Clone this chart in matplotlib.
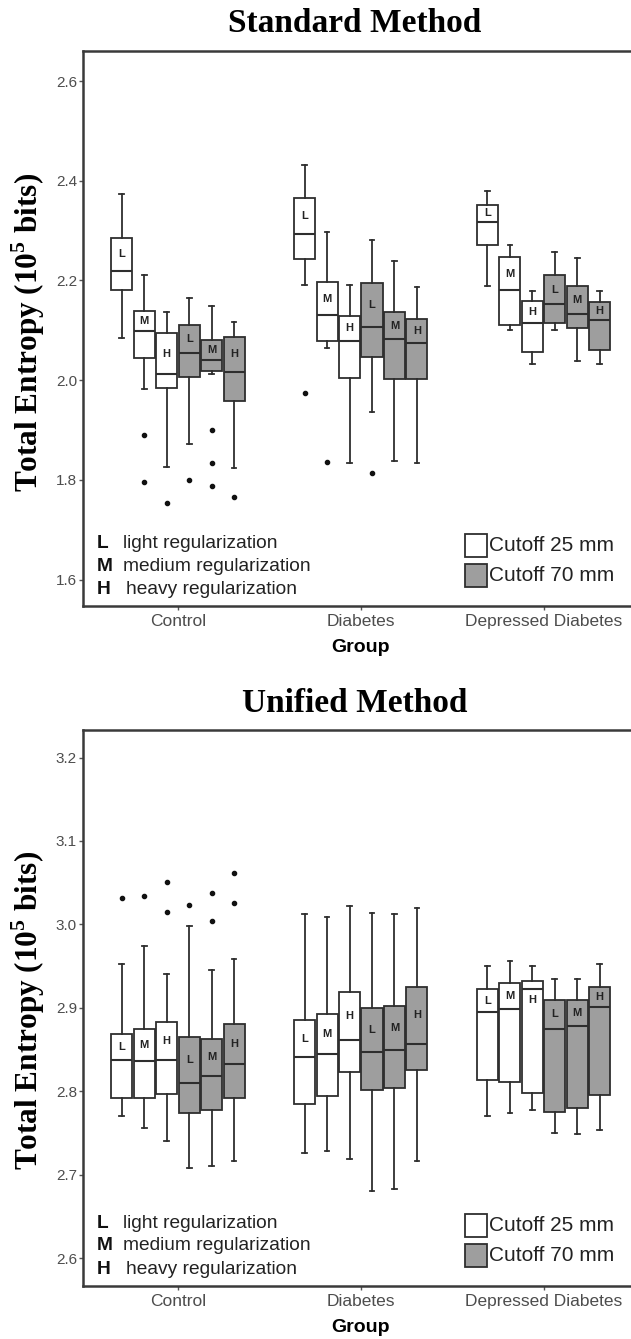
import matplotlib
matplotlib.use("Agg")
import matplotlib.pyplot as plt
from matplotlib.patches import Rectangle

GROUPS = ["Control", "Diabetes", "Depressed Diabetes"]
LEVELS = ["L", "M", "H", "L", "M", "H"]
CUTOFFS = ["Cutoff 25 mm", "Cutoff 70 mm"]
LEVEL_NAMES = ["light regularization", "medium regularization", "heavy regularization"]

# Standard method, [group][box]; boxes = L M H (25 mm), L M H (70 mm)
STD_WHISLO = [
    [2.085, 1.983, 1.826, 1.872, 2.012, 1.824],
    [2.191, 2.064, 1.833, 1.936, 1.838, 1.833],
    [2.189, 2.100, 2.033, 2.100, 2.039, 2.033],
]
STD_Q1 = [
    [2.181, 2.044, 1.985, 2.007, 2.018, 1.958],
    [2.244, 2.079, 2.005, 2.047, 2.003, 2.003],
    [2.272, 2.110, 2.057, 2.114, 2.104, 2.060],
]
STD_MED = [
    [2.219, 2.098, 2.012, 2.054, 2.041, 2.017],
    [2.293, 2.130, 2.079, 2.106, 2.082, 2.074],
    [2.318, 2.181, 2.114, 2.152, 2.132, 2.120],
]
STD_Q3 = [
    [2.286, 2.138, 2.094, 2.110, 2.080, 2.087],
    [2.366, 2.197, 2.129, 2.194, 2.137, 2.122],
    [2.352, 2.247, 2.159, 2.211, 2.189, 2.157],
]
STD_WHISHI = [
    [2.373, 2.211, 2.137, 2.164, 2.149, 2.117],
    [2.431, 2.298, 2.191, 2.281, 2.239, 2.187],
    [2.380, 2.272, 2.179, 2.257, 2.246, 2.179],
]
STD_FLIERS = [
    [[], [1.891, 1.795], [1.753], [1.799], [1.900, 1.834, 1.788], [1.765]],
    [[1.975], [1.836], [], [1.813], [], []],
    [[], [], [], [], [], []],
]

# Unified method
UNI_WHISLO = [
    [2.770, 2.756, 2.740, 2.708, 2.711, 2.717],
    [2.726, 2.729, 2.719, 2.681, 2.683, 2.716],
    [2.770, 2.774, 2.778, 2.750, 2.749, 2.754],
]
UNI_Q1 = [
    [2.792, 2.792, 2.797, 2.774, 2.778, 2.792],
    [2.785, 2.794, 2.823, 2.801, 2.804, 2.825],
    [2.814, 2.811, 2.798, 2.775, 2.780, 2.796],
]
UNI_MED = [
    [2.838, 2.836, 2.838, 2.810, 2.818, 2.833],
    [2.841, 2.845, 2.862, 2.847, 2.849, 2.857],
    [2.895, 2.899, 2.922, 2.875, 2.878, 2.901],
]
UNI_Q3 = [
    [2.869, 2.875, 2.883, 2.865, 2.863, 2.881],
    [2.885, 2.893, 2.919, 2.900, 2.902, 2.925],
    [2.922, 2.930, 2.932, 2.910, 2.910, 2.925],
]
UNI_WHISHI = [
    [2.953, 2.974, 2.940, 2.998, 2.945, 2.958],
    [3.012, 3.009, 3.022, 3.014, 3.013, 3.020],
    [2.950, 2.956, 2.950, 2.935, 2.934, 2.953],
]
UNI_FLIERS = [
    [[3.032], [3.034], [3.051, 3.015], [3.023], [3.038, 3.004], [3.062, 3.026]],
    [[], [], [], [], [], []],
    [[], [], [], [], [], []],
]

W, H = 631, 1339
STEP = 0.123
BOX_W = 0.115
GREY = "#9e9e9e"
EDGE = "#2e2e2e"
SANS = "Liberation Sans"
SERIF = "Liberation Serif"

plt.rcParams.update({
    "font.family": SANS,
    "mathtext.fontset": "custom",
    "mathtext.rm": SERIF,
    "mathtext.bf": SERIF + ":bold",
})

fig = plt.figure(figsize=(W / 100, H / 100), dpi=100)


def px_axes(left, top, right, bottom):
    return fig.add_axes([left / W, 1 - bottom / H, (right - left) / W, (bottom - top) / H])


def ftext(x, y, s, **kw):
    fig.text(x / W, 1 - y / H, s, **kw)


def draw_panel(ax, lo, q1, med, q3, hi, fliers, ylim, yticks):
    stats, pos, fills = [], [], []
    for g in range(len(GROUPS)):
        for b in range(len(LEVELS)):
            stats.append({
                "whislo": lo[g][b], "q1": q1[g][b], "med": med[g][b],
                "q3": q3[g][b], "whishi": hi[g][b], "fliers": fliers[g][b],
            })
            pos.append(g + 1 + (b - 2.5) * STEP)
            fills.append("white" if b < 3 else GREY)
    line = {"color": EDGE, "linewidth": 1.3}
    art = ax.bxp(
        stats, positions=pos, widths=BOX_W, patch_artist=True,
        capwidths=0.025, showfliers=True,
        boxprops={"edgecolor": EDGE, "linewidth": 1.3},
        medianprops={"color": EDGE, "linewidth": 1.5},
        whiskerprops=line, capprops=line,
        flierprops={"marker": "o", "markersize": 3, "markerfacecolor": "#111",
                    "markeredgecolor": "#111"},
    )
    for patch, c in zip(art["boxes"], fills):
        patch.set_facecolor(c)
    ax.set_xlim(0.482, 3.518)
    ax.set_ylim(*ylim)
    ax.set_yticks(yticks)
    ax.set_yticklabels([f"{t:.1f}" for t in yticks])
    ax.set_xticks([1, 2, 3])
    ax.set_xticklabels(GROUPS)
    for s in ax.spines.values():
        s.set_color("#3a3a3a")
        s.set_linewidth(1.8)
    ax.tick_params(direction="out", length=3, width=1, color="#555555",
                   labelcolor="#4d4d4d", pad=1.5)
    ax.tick_params(axis="y", labelsize=11)
    ax.tick_params(axis="x", labelsize=12.5, pad=3)

    # letters inside the boxes
    i = 0
    for g in range(len(GROUPS)):
        for b in range(len(LEVELS)):
            y3 = ax.transData.transform((0, q3[g][b]))[1]
            ym = ax.transData.transform((0, med[g][b]))[1]
            gap = y3 - ym
            off = gap / 2 if gap >= 14 else gap + 11
            ax.annotate(LEVELS[b], xy=(pos[i], q3[g][b]), xytext=(0, -off * 0.72),
                        textcoords="offset points", ha="center", va="center",
                        fontsize=8, fontweight="bold", color="#222222")
            i += 1

    # legends drawn in pixel offsets from the axes' lower-left corner
    bb = ax.get_window_extent()
    aw, ah = bb.width, bb.height

    def fx(px):
        return px / aw

    def fy(py):
        return py / ah

    desc_x = [39.4, 39.4, 42.2]
    for k, (lv, name) in enumerate(zip(LEVELS[:3], LEVEL_NAMES)):
        yy = fy(62.7 - k * 23)
        ax.text(fx(13.5), yy, lv, transform=ax.transAxes, ha="left", va="center",
                fontsize=13.8, fontweight="bold", color="#111")
        ax.text(fx(desc_x[k]), yy, name, transform=ax.transAxes, ha="left",
                va="center", fontsize=13.8, color="#222")
    for k, (lab, c) in enumerate(zip(CUTOFFS, ["white", GREY])):
        y0 = 48.8 - k * 30
        ax.add_patch(Rectangle((fx(381.5), fy(y0)), fx(22), fy(23), transform=ax.transAxes,
                               facecolor=c, edgecolor=EDGE, linewidth=1.3))
        ax.text(fx(406), fy(y0 + 11.5), lab, transform=ax.transAxes, ha="left",
                va="center", fontsize=15, color="#222")


YLAB = r"Total Entropy (10$^{\mathbf{5}}$ bits)"

ax1 = px_axes(83.3, 50.7, 638.2, 606)
draw_panel(ax1, STD_WHISLO, STD_Q1, STD_MED, STD_Q3, STD_WHISHI, STD_FLIERS,
           (1.547, 2.661), [1.6, 1.8, 2.0, 2.2, 2.4, 2.6])
ax2 = px_axes(83.3, 730, 638.2, 1285.7)
draw_panel(ax2, UNI_WHISLO, UNI_Q1, UNI_MED, UNI_Q3, UNI_WHISHI, UNI_FLIERS,
           (2.567, 3.233), [2.6, 2.7, 2.8, 2.9, 3.0, 3.1, 3.2])

for title, ty, axc in [("Standard Method", 24, 332), ("Unified Method", 703, 1010)]:
    ftext(355, ty, title, ha="center", va="center", fontsize=24,
          fontweight="bold", family=SERIF)
    ftext(28, axc, YLAB, ha="center", va="center", rotation=90, fontsize=22.5,
          fontweight="bold", family=SERIF)
for gy in (648, 1328):
    ftext(360, gy, "Group", ha="center", va="center", fontsize=14, fontweight="bold")

fig.savefig("out.png", dpi=100)
